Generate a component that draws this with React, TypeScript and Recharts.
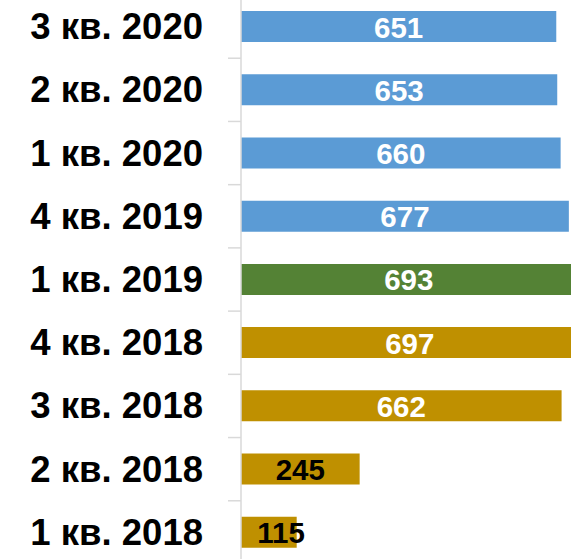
import { BarChart, Bar, XAxis, YAxis, Cell, LabelList } from 'recharts'

const categories = [
  '3 кв. 2020',
  '2 кв. 2020',
  '1 кв. 2020',
  '4 кв. 2019',
  '1 кв. 2019',
  '4 кв. 2018',
  '3 кв. 2018',
  '2 кв. 2018',
  '1 кв. 2018',
]
const values = [651, 653, 660, 677, 693, 697, 662, 245, 115]
const barColors = [
  '#5b9bd5', '#5b9bd5', '#5b9bd5', '#5b9bd5',
  '#548235',
  '#bf9000', '#bf9000', '#bf9000', '#bf9000',
]

const data = categories.map((name, i) => ({ name, value: values[i] }))

const FONT = '"Liberation Sans", Arial, sans-serif'
const AXIS_W = 241
const PLOT_H = 569
const BAND = PLOT_H / categories.length

function CategoryTick(props: any) {
  const { x, y, payload } = props
  const ly = y + BAND / 2
  return (
    <g>
      <text
        x={x - 38}
        y={y + 12.5}
        textAnchor="end"
        fontFamily={FONT}
        fontWeight="bold"
        fontSize={36.5}
        fill="#000"
      >
        {payload.value}
      </text>
      <line x1={x - 13} x2={x} y1={ly} y2={ly} stroke="#d9d9d9" strokeWidth={1.5} />
    </g>
  )
}

function ValueLabel(props: any) {
  const { x, y, width, height, value } = props
  const small = width < 150
  const cx = Math.max(x + width / 2, x + 40)
  return (
    <text
      x={cx}
      y={y + height / 2 + 11}
      textAnchor="middle"
      fontFamily={FONT}
      fontWeight="bold"
      fontSize={29.5}
      fill={small ? '#000' : '#fff'}
    >
      {value}
    </text>
  )
}

export default function App() {
  return (
    <div
      style={{
        position: 'absolute',
        left: 0,
        top: 0,
        width: 571,
        height: 559,
        overflow: 'hidden',
        background: '#fff',
      }}
    >
      <div style={{ position: 'absolute', left: 0, top: -5 }}>
        <BarChart
          width={AXIS_W + 339}
          height={PLOT_H}
          data={data}
          layout="vertical"
          margin={{ top: 0, right: 0, bottom: 0, left: 0 }}
          barSize={31}
        >
          <XAxis type="number" domain={[0, 700]} hide />
          <YAxis
            type="category"
            dataKey="name"
            width={AXIS_W}
            tickSize={0}
            tickMargin={0}
            tickLine={false}
            axisLine={{ stroke: '#d9d9d9', strokeWidth: 1.5 }}
            tick={<CategoryTick />}
            interval={0}
          />
          <Bar dataKey="value" isAnimationActive={false}>
            {data.map((d, i) => (
              <Cell key={d.name} fill={barColors[i]} />
            ))}
            <LabelList dataKey="value" content={<ValueLabel />} />
          </Bar>
        </BarChart>
      </div>
    </div>
  )
}
